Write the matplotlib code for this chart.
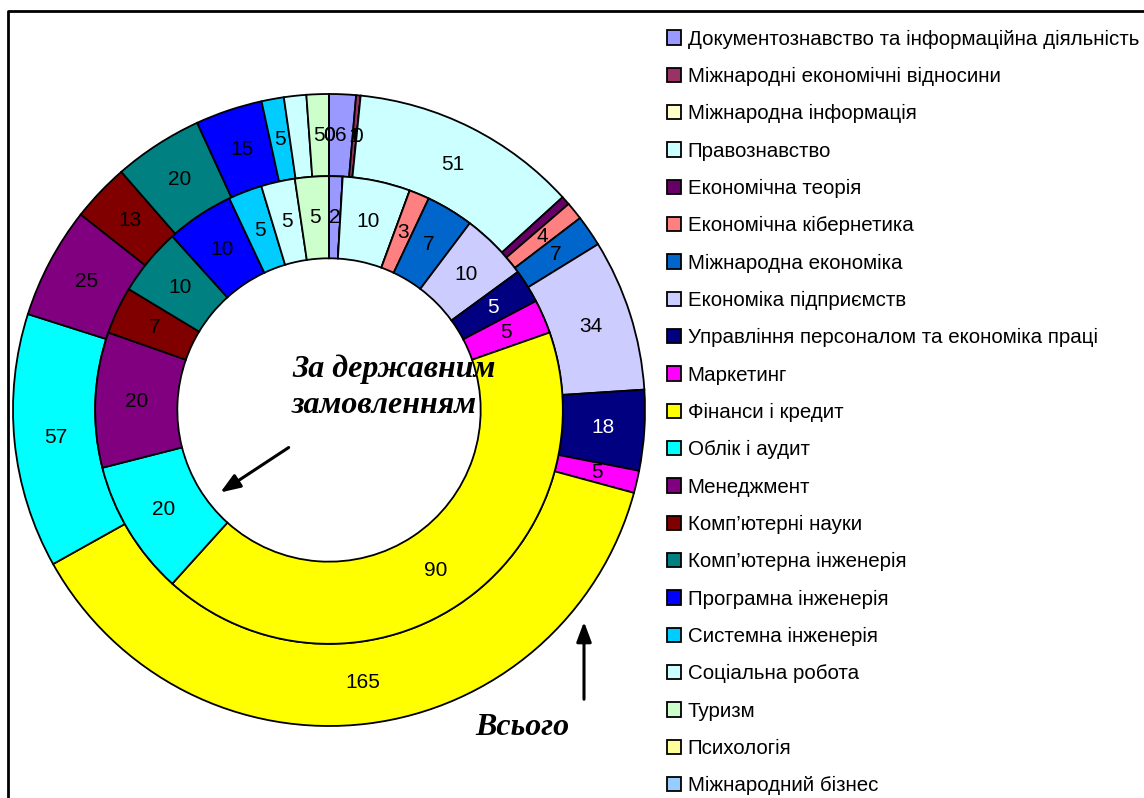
import matplotlib
matplotlib.use('Agg')
import matplotlib.pyplot as plt
from matplotlib.lines import Line2D
import numpy as np

plt.rcParams['font.family'] = ['Liberation Sans', 'DejaVu Sans']

# категорії (спеціальності)
categories = [
    'Документознавство та інформаційна діяльність',
    'Міжнародні економічні відносини',
    'Міжнародна інформація',
    'Правознавство',
    'Економічна теорія',
    'Економічна кібернетика',
    'Міжнародна економіка',
    'Економіка підприємств',
    'Управління персоналом та економіка праці',
    'Маркетинг',
    'Фінанси і кредит',
    'Облік і аудит',
    'Менеджмент',
    'Комп’ютерні науки',
    'Комп’ютерна інженерія',
    'Програмна інженерія',
    'Системна інженерія',
    'Соціальна робота',
    'Туризм',
    'Психологія',
    'Міжнародний бізнес',
]

# Всього (зовнішнє кільце)
total = [6, 1, 0, 51, 2, 4, 7, 34, 18, 5, 165, 57, 25, 13, 20, 15, 5, 5, 5, 0, 0]
# За державним замовленням (внутрішнє кільце)
state = [2, 0, 0, 10, 0, 3, 7, 10, 5, 5, 90, 20, 20, 7, 10, 10, 5, 5, 5, 0, 0]

# підписи, які на оригіналі не видно
hidden_total = ['Соціальна робота', 'Економічна теорія']

colors = ['#9999FF', '#993366', '#FFFFCC', '#CCFFFF', '#660066', '#FF8080',
          '#0066CC', '#CCCCFF', '#000080', '#FF00FF', '#FFFF00', '#00FFFF',
          '#800080', '#800000', '#008080', '#0000FF', '#00CCFF', '#CCFFFF',
          '#CCFFCC', '#FFFF99', '#99CCFF']
dark = ['#000080']

W, H = 1144, 798
fig = plt.figure(figsize=(W / 100, H / 100), dpi=100)

# центр кільця та радіус у пікселях
cx, cy, R = 329, 410, 316
ax = fig.add_axes([(cx - R) / W, (H - cy - R) / H, 2 * R / W, 2 * R / H])

ring_w = 0.26
wp = dict(edgecolor='black', linewidth=1.3, width=ring_w)
outer, _ = ax.pie(total, radius=1.0, colors=colors, startangle=90,
                  counterclock=False, wedgeprops=wp)
inner, _ = ax.pie(state, radius=1.0 - ring_w, colors=colors, startangle=90,
                  counterclock=False, wedgeprops=wp)
ax.set_xlim(-1, 1)
ax.set_ylim(-1, 1)


def put_labels(wedges, values, r, skip_zero, hidden=()):
    for w, v, c, name in zip(wedges, values, colors, categories):
        if skip_zero and v == 0:
            continue
        if name in hidden:
            continue
        ang = np.deg2rad((w.theta1 + w.theta2) / 2)
        ax.text(r * np.cos(ang), r * np.sin(ang), str(v), ha='center', va='center',
                fontsize=15, color='white' if c in dark else 'black')


put_labels(outer, total, 1.0 - ring_w / 2, False, hidden_total)
put_labels(inner, state, 1.0 - 1.5 * ring_w, True)

# легенда
leg = fig.legend(outer, categories, loc='upper left', bbox_to_anchor=(667 / W, 1 - 29.5 / H),
                 frameon=False, fontsize=14.8, handlelength=0.7, handleheight=0.7,
                 handletextpad=0.3, labelspacing=0.89, borderaxespad=0, borderpad=0)

# написи та стрілки
serif = dict(family=['Liberation Serif', 'DejaVu Serif'], fontsize=23,
             fontweight='bold', fontstyle='italic', ha='left', va='baseline')
fig.text(292 / W, 1 - 377 / H, 'За державним', **serif)
fig.text(292 / W, 1 - 413 / H, 'замовленням', **serif)
fig.text(475 / W, 1 - 735 / H, 'Всього', **serif)

arrow = dict(arrowstyle='-|>,head_length=1.2,head_width=0.45', color='black', lw=2.2)
ax.annotate('', xy=(218 / W, 1 - 494 / H), xytext=(291 / W, 1 - 446 / H),
            xycoords='figure fraction', textcoords='figure fraction', arrowprops=arrow)
ax.annotate('', xy=(584 / W, 1 - 619 / H), xytext=(584 / W, 1 - 702 / H),
            xycoords='figure fraction', textcoords='figure fraction', arrowprops=arrow)

# рамка
fig.add_artist(Line2D([8 / W, 8 / W, 1.0], [0.0, 1 - 11 / H, 1 - 11 / H],
                      transform=fig.transFigure, color='black', lw=2))

fig.savefig('out.png', dpi=100, facecolor='white')
